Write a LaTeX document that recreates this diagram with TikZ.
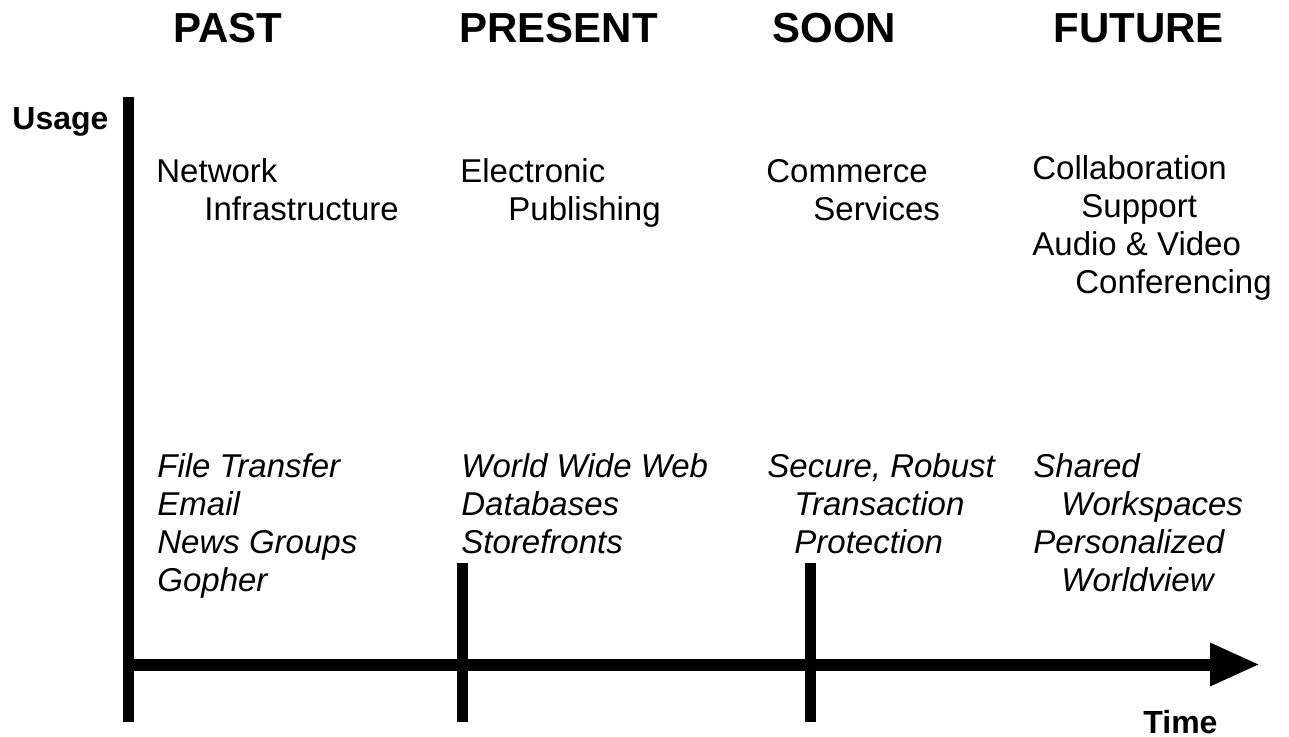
\documentclass[tikz,border=0pt]{standalone}
\usepackage{fontspec}
\setmainfont{Liberation Sans}
\usetikzlibrary{arrows.meta}

\begin{document}
\begin{tikzpicture}[
    x=0.5pt, y=-0.5pt,
    era/.style={
        anchor=base west,
        inner sep=0pt,
        font=\fontsize{21}{25}\selectfont\bfseries
    },
    axislabel/.style={
        anchor=base west,
        inner sep=0pt,
        font=\fontsize{16}{19}\selectfont\bfseries
    },
    % multi-line boxes: base is the baseline of the last line
    usebox/.style={
        anchor=base west,
        inner sep=0pt,
        align=left,
        font=\fontsize{16.5}{19}\selectfont
    },
    techbox/.style={
        usebox,
        font=\fontsize{16.5}{19}\selectfont\itshape
    },
    axis/.style={line width=5.5pt},
    timeline/.style={line width=6pt, -{Triangle[length=25pt, width=20pt]}}
]
\useasboundingbox (0,0) rectangle (1289,737);

% era headings
\node[era] (past) at (173,43) {PAST};
\node[era] (present) at (459,43) {PRESENT};
\node[era] (soon) at (772,43) {SOON};
\node[era] (future) at (1053,43) {FUTURE};

% axis labels
\node[axislabel] (usage) at (12,130) {Usage};
\node[axislabel] (time) at (1143,733) {Time};

% what the net is used for
\node[usebox] (pastuse) at (156,221) {Network\\\hspace*{24pt}Infrastructure};
\node[usebox] (presentuse) at (460,221) {Electronic\\\hspace*{24pt}Publishing};
\node[usebox] (soonuse) at (766,221) {Commerce\\\hspace*{23.5pt}Services};
\node[usebox] (futureuse) at (1032,294) {%
Collaboration\\
\hspace*{24.5pt}Support\\
Audio \& Video\\
\hspace*{21.5pt}Conferencing
};

% technologies
\node[techbox] (pasttech) at (157,591) {File Transfer\\Email\\News Groups\\Gopher};
\node[techbox] (presenttech) at (461,553) {World Wide Web\\Databases\\Storefronts};
\node[techbox] (soontech) at (767,553) {%
Secure, Robust\\
\hspace*{13.5pt}Transaction\\
\hspace*{13.5pt}Protection
};
\node[techbox] (futuretech) at (1033,591) {%
Shared\\
\hspace*{14pt}Workspaces\\
Personalized\\
\hspace*{14pt}Worldview
};

% axes and era ticks
\coordinate (ytop) at (128,97);
\coordinate (ybot) at (128,722);
\coordinate (xstart) at (128,664.5);
\coordinate (xend) at (1260,664.5);
\coordinate (tickatop) at (462,563);
\coordinate (tickabot) at (462,722);
\coordinate (tickbtop) at (810,563);
\coordinate (tickbbot) at (810,722);

\draw[axis] (ytop) -- (ybot);
\draw[axis] (tickatop) -- (tickabot);
\draw[axis] (tickbtop) -- (tickbbot);
\draw[timeline] (xstart) -- (xend);

\end{tikzpicture}
\end{document}
